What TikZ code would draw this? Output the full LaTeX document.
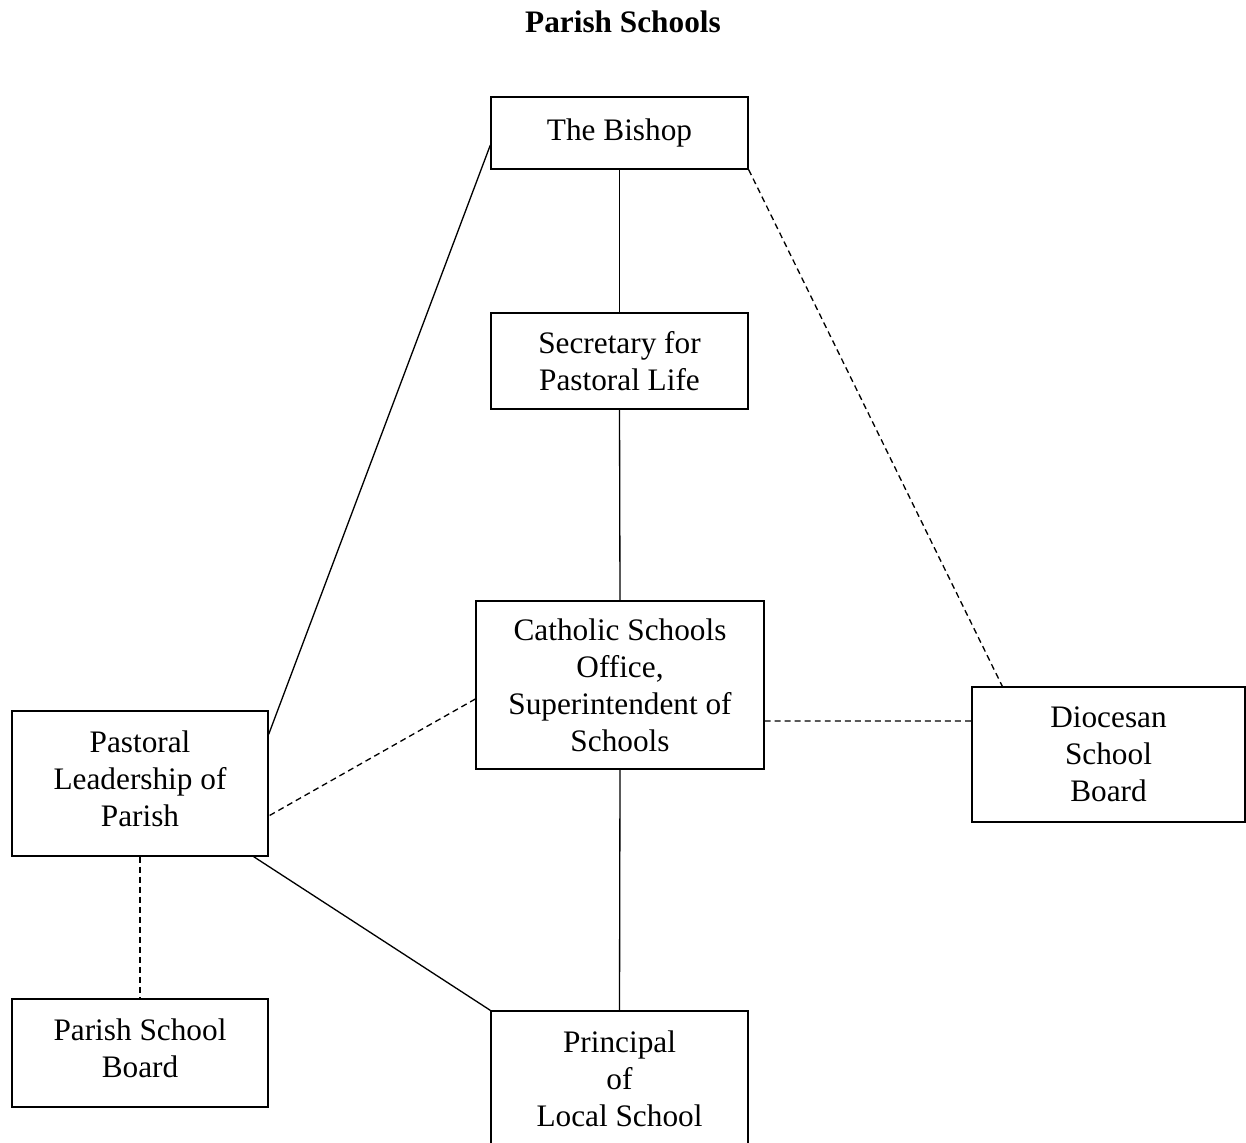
\documentclass[tikz,border=0pt]{standalone}
\usepackage{fontspec}
\setmainfont{Liberation Serif}
\usetikzlibrary{calc}

\begin{document}
\begin{tikzpicture}
	[
	align=center,
	line width=0.75pt,
	font=\fontsize{17.8}{21}\selectfont,
	box/.style={draw, line width=0.75pt, inner sep=0pt},
	link/.style={line width=0.75pt},
	dashlink/.style={line width=0.75pt, dash pattern=on 3.4pt off 2.3pt},
	]
		\useasboundingbox (0,0) rectangle (24.92,-22.84);

		% title
		\node (title) at 		(12.46, -0.44 ) {\bfseries Parish Schools};

		% diocesan level
		\node[box, minimum width=5.14cm, minimum height=1.44cm] (bishop) at 		(12.39, -2.66 ) {The Bishop};
		\node[box, minimum width=5.14cm, minimum height=1.92cm] (sec) at 		(12.39, -7.22 ) {Secretary for\\Pastoral Life};
		\node[box, minimum width=5.76cm, minimum height=3.36cm] (cso) at 		(12.40, -13.70 ) {Catholic Schools\\Office,\\Superintendent of\\Schools};
		\node[box, minimum width=5.46cm, minimum height=2.70cm] (diocesan) at 		(22.17, -15.09 ) {Diocesan\\School\\Board};

		% parish level
		\node[box, minimum width=5.12cm, minimum height=2.90cm, text depth=0.2cm] (pastoral) at 		( 2.80, -15.67 ) {Pastoral\\Leadership of\\Parish};
		\node[box, minimum width=5.12cm, minimum height=2.16cm, text depth=0.2cm] (board) at 		( 2.80, -21.06 ) {Parish School\\Board};
		\node[box, minimum width=5.14cm, minimum height=2.72cm] (principal) at 		(12.39, -21.58 ) {Principal\\of\\Local School};

		\foreach \from/\to in {bishop/sec,sec/cso,cso/principal} \draw[link] (\from.south) -- (\to.north);
		\draw[link] ($(bishop.west)+(0,-0.24)$) -- ($(pastoral.north east)+(0,-0.48)$);
		\draw[link] ($(pastoral.south east)+(-0.30,0)$) -- (principal.north west);

		\draw[dashlink] (bishop.south east) -- ($(diocesan.north west)+(0.62,0)$);
		\draw[dashlink] ($(cso.east)+(0,-0.72)$) -- ($(diocesan.west)+(0,0.67)$);
		\draw[dashlink] ($(cso.west)+(0,-0.28)$) -- ($(pastoral.east)+(0,-0.65)$);
		\draw[dashlink] (pastoral.south) -- (board.north);

	\end{tikzpicture}
\end{document}
